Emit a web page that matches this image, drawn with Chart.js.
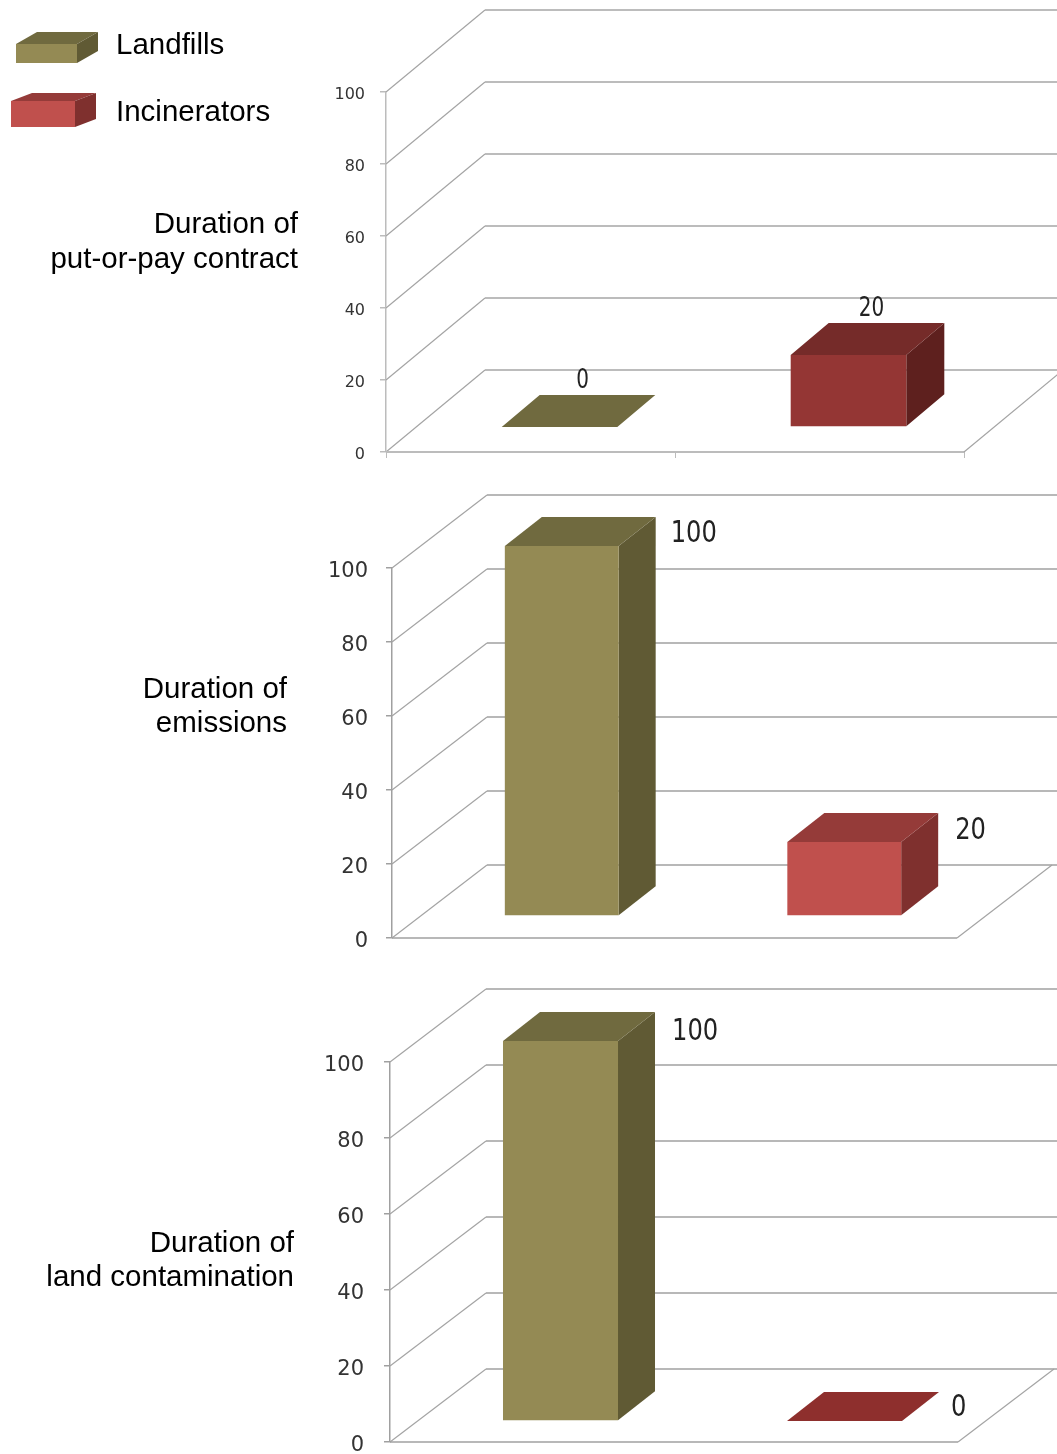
<!DOCTYPE html>
<html>
<head>
<meta charset="utf-8">
<title>Landfills and incinerators</title>
<style>
  html, body { margin: 0; padding: 0; background: #fff; }
  #page { position: relative; width: 1057px; height: 1454px; overflow: hidden; }
  canvas { position: absolute; left: 0; top: 0; }
</style>
<script src="https://cdn.jsdelivr.net/npm/chart.js@4"></script>
</head>
<body>
<div id="page">
  <canvas id="putOrPay" width="1057" height="1500"></canvas>
  <canvas id="emissions" width="1057" height="1500"></canvas>
  <canvas id="contamination" width="1057" height="1500"></canvas>
</div>
<script>
// Chart values
const seriesNames = ['Landfills', 'Incinerators'];
const putOrPayValues = [0, 20];
const emissionsValues = [100, 20];
const contaminationValues = [100, 0];
const putOrPayTitle = ['Duration of', 'put-or-pay contract'];
const emissionsTitle = ['Duration of', 'emissions'];
const contaminationTitle = ['Duration of', 'land contamination'];

const CANVAS_H = 1500;
const LABEL_FONT = '29.5px "Liberation Sans", Arial, sans-serif';
const VALUE_FONT = '"DejaVu Sans", sans-serif';
const TICK_FONT = '"DejaVu Sans", sans-serif';

// Shaded faces for one box: front, top, side
const OLIVE = { front: '#948a54', top: '#706a3f', side: '#605a34' };
const RED_DARK = { front: '#943634', top: '#752b29', side: '#5e201e' };
const RED = { front: '#c0504d', top: '#953b39', side: '#7f302e' };
const RED_FLAT = { front: '#c0504d', top: '#8e2f2d', side: '#7f302e' };

// Draws the 3D floor, walls, box faces, value labels and the side title of a panel
const box3d = {
  id: 'box3d',
  beforeDraw(chart, args, opts) {
    // Tick labels sit slightly below their tick marks
    chart.scales.y.getLabelItems().forEach(item => {
      item.options.translation[1] += opts.tickNudge;
    });
  },
  beforeDatasetsDraw(chart, args, opts) {
    const { ctx, chartArea: a, scales: { y } } = chart;
    const { dx, dy } = opts.floor;
    ctx.save();
    y.ticks.forEach(t => {
      const py = y.getPixelForValue(t.value);
      ctx.strokeStyle = opts.diagColor;
      ctx.lineWidth = 1.2;
      ctx.beginPath();
      ctx.moveTo(a.left, py);
      ctx.lineTo(a.left + dx, py + dy);
      ctx.stroke();
      ctx.strokeStyle = opts.gridColor;
      ctx.lineWidth = opts.gridWidth;
      ctx.beginPath();
      ctx.moveTo(a.left + dx, py + dy);
      ctx.lineTo(1057, py + dy);
      ctx.stroke();
    });
    ctx.strokeStyle = opts.gridColor;
    ctx.lineWidth = opts.gridWidth;
    ctx.beginPath();
    ctx.moveTo(a.left, a.bottom);
    ctx.lineTo(a.right, a.bottom);
    ctx.stroke();
    ctx.strokeStyle = opts.diagColor;
    ctx.lineWidth = 1.2;
    ctx.beginPath();
    ctx.moveTo(a.right, a.bottom);
    ctx.lineTo(a.right + dx, a.bottom + dy);
    ctx.stroke();
    ctx.restore();
  },
  beforeDatasetDraw(chart, args, opts) {
    const { ctx } = chart;
    const c = opts.faces[args.index];
    const { dx, dy } = opts.boxDepth;
    ctx.save();
    ctx.translate(opts.shift.x, opts.shift.y);
    args.meta.data.forEach((bar, i) => {
      const v = chart.data.datasets[args.index].data[i];
      if (v === null) return;
      const l = bar.x - bar.width / 2, r = bar.x + bar.width / 2;
      ctx.fillStyle = c.side;
      ctx.beginPath();
      ctx.moveTo(r, bar.y);
      ctx.lineTo(r + dx, bar.y + dy);
      ctx.lineTo(r + dx, bar.base + dy);
      ctx.lineTo(r, bar.base);
      ctx.closePath();
      ctx.fill();
      ctx.fillStyle = c.top;
      ctx.beginPath();
      ctx.moveTo(l, bar.y);
      ctx.lineTo(l + dx, bar.y + dy);
      ctx.lineTo(r + dx, bar.y + dy);
      ctx.lineTo(r, bar.y);
      ctx.closePath();
      ctx.fill();
    });
  },
  afterDatasetDraw(chart) {
    chart.ctx.restore();
  },
  afterDatasetsDraw(chart, args, opts) {
    const { ctx } = chart;
    ctx.save();
    // Value labels beside or above each box, drawn tall and narrow
    ctx.textBaseline = 'middle';
    ctx.fillStyle = '#222';
    chart.data.datasets.forEach((ds, di) => {
      const place = opts.valueLabels[di];
      chart.getDatasetMeta(di).data.forEach((bar, i) => {
        if (ds.data[i] === null) return;
        const bx = bar.x + opts.shift.x, by = bar.y + opts.shift.y;
        const ax = place.align === 'center' ? bx : bx + bar.width / 2;
        ctx.save();
        ctx.translate(ax + place.x, by + place.y);
        ctx.scale(opts.valueSqueeze, 1);
        ctx.font = opts.valueSize + 'px ' + VALUE_FONT;
        ctx.textAlign = place.align;
        ctx.fillText(String(ds.data[i]), 0, 0);
        ctx.restore();
      });
    });
    // Side title, right aligned
    ctx.font = LABEL_FONT;
    ctx.fillStyle = '#000';
    ctx.textAlign = 'right';
    opts.title.forEach((line, i) => {
      ctx.fillText(line, opts.titleX, opts.titleY + i * opts.titleLeading);
    });
    ctx.restore();
  }
};

// Legend entries drawn as small boxes
const legendBoxes = {
  id: 'legendBoxes',
  afterDraw(chart, args, opts) {
    if (!opts.entries) return;
    const { ctx } = chart;
    ctx.save();
    opts.entries.forEach((e, i) => {
      const c = e.faces;
      ctx.fillStyle = c.top;
      ctx.beginPath();
      ctx.moveTo(e.x, e.y);
      ctx.lineTo(e.x + e.dx, e.y - e.dy);
      ctx.lineTo(e.x + e.w + e.dx, e.y - e.dy);
      ctx.lineTo(e.x + e.w, e.y);
      ctx.closePath();
      ctx.fill();
      ctx.fillStyle = c.side;
      ctx.beginPath();
      ctx.moveTo(e.x + e.w, e.y);
      ctx.lineTo(e.x + e.w + e.dx, e.y - e.dy);
      ctx.lineTo(e.x + e.w + e.dx, e.y + e.h - e.dy);
      ctx.lineTo(e.x + e.w, e.y + e.h);
      ctx.closePath();
      ctx.fill();
      ctx.fillStyle = c.front;
      ctx.fillRect(e.x, e.y, e.w, e.h);
      ctx.font = LABEL_FONT;
      ctx.fillStyle = '#000';
      ctx.textAlign = 'left';
      ctx.textBaseline = 'middle';
      ctx.fillText(seriesNames[i], 116, e.textY);
    });
    ctx.restore();
  }
};

function drawPanel(id, values, p) {
  new Chart(document.getElementById(id), {
    type: 'bar',
    data: {
      labels: seriesNames,
      datasets: seriesNames.map((name, i) => ({
        label: name,
        data: values.map((v, j) => (j === i ? v : null)),
        backgroundColor: p.faces[i].front,
        borderWidth: 0,
        clip: false,
        grouped: false,
        barPercentage: p.barPct,
        categoryPercentage: 1
      }))
    },
    options: {
      responsive: false,
      animation: false,
      events: [],
      layout: {
        autoPadding: false,
        padding: { left: 0, top: p.y100, right: 1057 - p.x1, bottom: CANVAS_H - p.y0 - 10 }
      },
      scales: {
        x: {
          grid: {
            display: p.xTicks,
            drawOnChartArea: false,
            tickLength: 6,
            color: p.gridColor
          },
          border: { display: false },
          ticks: { display: false },
          afterFit(s) { s.height = 10; }
        },
        y: {
          min: 0,
          max: 100,
          afterFit(s) { s.width = p.x0; },
          ticks: {
            stepSize: 20,
            padding: p.tickPad,
            color: '#333',
            font: { family: TICK_FONT, size: p.tickSize }
          },
          grid: { drawOnChartArea: false, tickLength: 6, color: p.gridColor, lineWidth: 1.5 },
          border: { color: p.gridColor, width: 1.5 }
        }
      },
      plugins: {
        legend: { display: false },
        tooltip: { enabled: false },
        box3d: p,
        legendBoxes: p.legend || {}
      }
    },
    plugins: [box3d, legendBoxes]
  });
}

drawPanel('putOrPay', putOrPayValues, {
  x0: 386, x1: 964, y0: 452, y100: 92,
  floor: { dx: 99, dy: -82 }, shift: { x: 29, y: -25 }, boxDepth: { dx: 38, dy: -32 },
  barPct: 0.4, faces: [OLIVE, RED_DARK],
  gridColor: '#bcbcbc', diagColor: '#a4a4a4', gridWidth: 2, xTicks: true,
  tickSize: 16, tickPad: 15, tickNudge: 3, valueSize: 27, valueSqueeze: 0.74,
  valueLabels: [{ align: 'center', x: 23, y: -46 }, { align: 'center', x: 23, y: -46 }],
  title: putOrPayTitle, titleX: 298, titleY: 225, titleLeading: 35,
  legend: {
    entries: [
      { faces: OLIVE, x: 16, y: 44, w: 61, h: 19, dx: 21, dy: 12, textY: 46 },
      { faces: RED, x: 11, y: 101, w: 64, h: 26, dx: 21, dy: 8, textY: 113 }
    ]
  }
});

drawPanel('emissions', emissionsValues, {
  x0: 392, x1: 957, y0: 938, y100: 568,
  floor: { dx: 95, dy: -73 }, shift: { x: 28.5, y: -22 }, boxDepth: { dx: 37, dy: -29 },
  barPct: 0.403, faces: [OLIVE, RED],
  gridColor: '#a0a0a0', diagColor: '#a4a4a4', gridWidth: 1.5, xTicks: false,
  tickSize: 21, tickPad: 18, tickNudge: 4, valueSize: 31, valueSqueeze: 0.78,
  valueLabels: [{ align: 'left', x: 52, y: -12 }, { align: 'left', x: 54, y: -11 }],
  title: emissionsTitle, titleX: 287, titleY: 690, titleLeading: 34
});

drawPanel('contamination', contaminationValues, {
  x0: 390, x1: 958, y0: 1442, y100: 1062,
  floor: { dx: 96, dy: -73 }, shift: { x: 28.5, y: -21 }, boxDepth: { dx: 37, dy: -29 },
  barPct: 0.405, faces: [OLIVE, RED_FLAT],
  gridColor: '#a0a0a0', diagColor: '#a4a4a4', gridWidth: 1.5, xTicks: false,
  tickSize: 21, tickPad: 20, tickNudge: 4, valueSize: 31, valueSqueeze: 0.78,
  valueLabels: [{ align: 'left', x: 54, y: -9 }, { align: 'left', x: 49, y: -13 }],
  title: contaminationTitle, titleX: 294, titleY: 1244, titleLeading: 34
});
</script>
</body>
</html>
